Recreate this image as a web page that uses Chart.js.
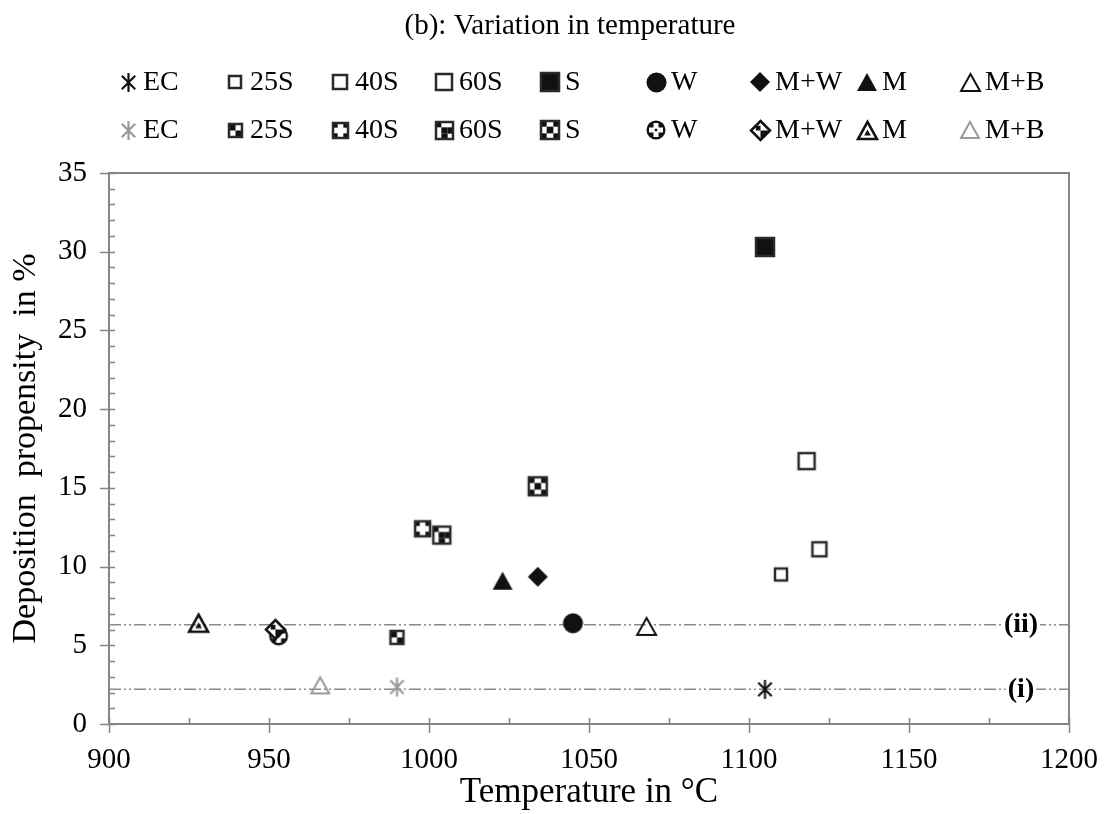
<!DOCTYPE html>
<html>
<head>
<meta charset="utf-8">
<script src="https://cdn.jsdelivr.net/npm/chart.js@4.4.1/dist/chart.umd.min.js"></script>
<style>
  html, body { margin: 0; padding: 0; background: #fff; }
</style>
</head>
<body>
<canvas id="myChart" width="1104" height="814"></canvas>
<script>
const groups = ['EC', '25S', '40S', '60S', 'S', 'W', 'M+W', 'M', 'M+B'];

// solid / open markers (first legend row)
const tempA = [1105, 1110, 1122, 1118, 1105, 1045, 1034, 1023, 1068];
const depA  = [2.2, 9.5, 11.1, 16.7, 30.3, 6.4, 9.35, 9.1, 6.2];

// patterned markers (second legend row)
const tempB = [990, 990, 998, 1004, 1034, 953, 952, 928, 966];
const depB  = [2.35, 5.5, 12.4, 12.0, 15.1, 5.6, 6.0, 6.4, 2.45];

// horizontal limit lines
const limitLabels = ['(i)', '(ii)'];
const limitValues = [2.2, 6.3];
const xRange = [900, 1200];
const yRange = [0, 35];

const chartTitle = '(b): Variation in temperature';
const SERIF = '"Liberation Serif", "Times New Roman", serif';
const INK = '#111';
const GREY = '#9a9a9a';

function blank(size) {
  const c = document.createElement('canvas');
  c.width = c.height = size;
  return c;
}

function square(size, mode, n, dark) {
  const c = blank(size + 4), g = c.getContext('2d'), a = 2;
  g.fillStyle = mode === 'solid' ? INK : '#fff';
  g.fillRect(a, a, size, size);
  if (mode === 'check') {
    const cell = size / n;
    g.fillStyle = INK;
    dark.forEach(k => g.fillRect(a + (k % n) * cell, a + Math.floor(k / n) * cell, cell, cell));
  }
  g.strokeStyle = '#2a2a2a';
  g.lineWidth = 2.5;
  g.strokeRect(a + 1, a + 1, size - 2, size - 2);
  return c;
}

function circle(size, mode) {
  const c = blank(size + 4), g = c.getContext('2d'), m = c.width / 2, r = size / 2;
  g.beginPath();
  g.arc(m, m, r - 0.5, 0, Math.PI * 2);
  g.fillStyle = INK;
  g.fill();
  if (mode === 'check') {
    const b = r * 0.5;
    g.fillStyle = '#fff';
    g.fillRect(m - b / 2, m - r * 0.7, b, r * 1.4);
    g.fillRect(m - r * 0.7, m - b / 2, r * 1.4, b);
    g.fillStyle = INK;
    g.fillRect(m - b / 4, m - b / 4, b / 2, b / 2);
  }
  return c;
}

function diamond(size, mode) {
  const c = blank(size + 4), g = c.getContext('2d'), m = c.width / 2, r = size / 2;
  g.beginPath();
  g.moveTo(m, m - r); g.lineTo(m + r, m); g.lineTo(m, m + r); g.lineTo(m - r, m);
  g.closePath();
  if (mode === 'solid') {
    g.fillStyle = INK;
    g.fill();
    return c;
  }
  g.fillStyle = '#fff';
  g.fill();
  g.save();
  g.clip();
  g.fillStyle = INK;
  g.fillRect(m, m, r, r);
  g.fillRect(m - r * 0.5, m - r * 0.5, r * 0.5, r * 0.5);
  g.restore();
  g.strokeStyle = INK;
  g.lineWidth = 2.5;
  g.stroke();
  return c;
}

function triangle(size, mode, colour) {
  const c = blank(size + 4), g = c.getContext('2d'), m = c.width / 2, h = size * 0.9;
  const path = (s, dy) => {
    g.beginPath();
    g.moveTo(m, m - h * s / 2 + dy);
    g.lineTo(m + size * s / 2, m + h * s / 2 + dy);
    g.lineTo(m - size * s / 2, m + h * s / 2 + dy);
    g.closePath();
  };
  path(1, 0);
  if (mode === 'solid') {
    g.fillStyle = INK;
    g.fill();
    return c;
  }
  g.strokeStyle = colour;
  g.lineWidth = mode === 'check' ? 2.6 : 2;
  g.lineJoin = 'miter';
  g.stroke();
  if (mode === 'check') {
    path(0.35, 2);
    g.fillStyle = INK;
    g.fill();
  }
  return c;
}

function asterisk(size, colour) {
  const c = blank(size + 4), g = c.getContext('2d'), m = c.width / 2, r = size / 2;
  const dx = r * Math.cos(Math.PI * 45 / 180), dy = r * Math.sin(Math.PI * 45 / 180);
  g.strokeStyle = colour;
  g.lineWidth = 2.2;
  g.beginPath();
  g.moveTo(m, m - r); g.lineTo(m, m + r);
  g.moveTo(m - dx, m - dy); g.lineTo(m + dx, m + dy);
  g.moveTo(m + dx, m - dy); g.lineTo(m - dx, m + dy);
  g.stroke();
  return c;
}

const markersA = [
  asterisk(19, INK),
  square(14, 'open'),
  square(16, 'open'),
  square(18, 'open'),
  square(20, 'solid'),
  circle(21, 'solid'),
  diamond(20, 'solid'),
  triangle(20, 'solid'),
  triangle(19, 'open', INK)
];

const markersB = [
  asterisk(19, GREY),
  square(15, 'check', 2, [0, 3]),
  square(17, 'check', 3, [0, 2, 6, 8]),
  square(19, 'check', 3, [0, 4, 5, 7]),
  square(20, 'check', 3, [0, 2, 4, 6, 8]),
  circle(20, 'check'),
  diamond(19, 'check'),
  triangle(19, 'check', INK),
  triangle(18, 'open', GREY)
];

// legend grid: marker centres
const legendX = [128, 235, 340, 444, 550, 656, 760, 867, 970];
const legendY = [82, 130];

const toPoints = (xs, ys) => xs.map((x, i) => ({ x: x, y: ys[i] }));

const limitSets = limitValues.map(v => ({
  data: [{ x: xRange[0], y: v }, { x: xRange[1], y: v }],
  showLine: true,
  pointRadius: 0,
  borderColor: '#8a8a8a',
  borderWidth: 1.5,
  borderDash: [12, 3, 2, 3, 2, 3],
  order: 2
}));

const frame = {
  id: 'frame',
  beforeDatasetsDraw(chart) {
    const { ctx, chartArea: a, scales: { x, y } } = chart;
    ctx.save();
    ctx.strokeStyle = '#858585';
    ctx.lineWidth = 2;
    ctx.strokeRect(a.left, a.top, a.right - a.left, a.bottom - a.top);
    ctx.lineWidth = 1.5;
    ctx.beginPath();
    for (let v = xRange[0]; v <= xRange[1]; v += 25) {
      const px = Math.round(x.getPixelForValue(v)) + 0.5;
      ctx.moveTo(px, a.bottom - 6);
      ctx.lineTo(px, v % 50 === 0 ? a.bottom + 9 : a.bottom);
    }
    for (let v = yRange[0]; v <= yRange[1]; v += 1) {
      const py = Math.round(y.getPixelForValue(v)) + 0.5;
      ctx.moveTo(v % 5 === 0 ? a.left - 9 : a.left, py);
      ctx.lineTo(a.left + 6, py);
    }
    ctx.stroke();
    ctx.restore();
  },
  afterDatasetsDraw(chart) {
    const { ctx, scales: { x, y } } = chart;
    ctx.save();
    ctx.font = 'bold 28px ' + SERIF;
    ctx.textAlign = 'center';
    ctx.textBaseline = 'middle';
    limitValues.forEach((v, i) => {
      const px = x.getPixelForValue(1185), py = y.getPixelForValue(v);
      const w = ctx.measureText(limitLabels[i]).width;
      ctx.fillStyle = '#fff';
      ctx.fillRect(px - w / 2 - 2, py - 4, w + 4, 8);
      ctx.fillStyle = '#000';
      ctx.fillText(limitLabels[i], px, py);
    });
    ctx.restore();
  },
  afterDraw(chart) {
    const ctx = chart.ctx;
    ctx.save();
    ctx.fillStyle = '#000';
    ctx.textBaseline = 'middle';
    ctx.textAlign = 'center';
    ctx.font = '29px ' + SERIF;
    ctx.fillText(chartTitle, 570, 26);
    ctx.textAlign = 'left';
    ctx.font = '28px ' + SERIF;
    [markersA, markersB].forEach((marks, r) => {
      marks.forEach((m, i) => {
        const cx = legendX[i], cy = legendY[r];
        ctx.drawImage(m, Math.round(cx - m.width / 2), Math.round(cy - m.height / 2));
        ctx.fillText(groups[i], cx + 15, cy + 1);
      });
    });
    ctx.restore();
  }
};

new Chart(document.getElementById('myChart'), {
  type: 'scatter',
  data: {
    datasets: [
      { data: toPoints(tempA, depA), pointStyle: markersA, pointRadius: 10, order: 0 },
      { data: toPoints(tempB, depB), pointStyle: markersB, pointRadius: 10, order: 1 },
      ...limitSets
    ]
  },
  options: {
    responsive: false,
    animation: false,
    events: [],
    layout: { autoPadding: false, padding: { top: 173, right: 35, left: 0, bottom: 0 } },
    plugins: {
      legend: { display: false },
      tooltip: { enabled: false }
    },
    scales: {
      x: {
        type: 'linear',
        min: xRange[0],
        max: xRange[1],
        grid: { display: false },
        border: { display: false },
        ticks: {
          stepSize: 50,
          color: '#000',
          padding: 11,
          font: { family: SERIF, size: 29 },
          callback: v => String(v)
        },
        title: {
          display: true,
          text: 'Temperature in °C',
          color: '#000',
          font: { family: SERIF, size: 35 },
          padding: { top: 0, bottom: 0 }
        },
        afterFit: s => {
          s.height = 90;
          s.paddingLeft = 0;
          s.paddingRight = 0;
        }
      },
      y: {
        min: yRange[0],
        max: yRange[1],
        grid: { display: false },
        border: { display: false },
        ticks: {
          stepSize: 5,
          color: '#000',
          padding: 14,
          font: { family: SERIF, size: 29 },
          callback: v => String(v)
        },
        title: {
          display: true,
          text: 'Deposition  propensity  in %',
          color: '#000',
          font: { family: SERIF, size: 34 },
          padding: { top: 6, bottom: 0 }
        },
        afterFit: s => {
          s.width = 109;
          s.paddingTop = 0;
          s.paddingBottom = 0;
        }
      }
    }
  },
  plugins: [frame]
});
</script>
</body>
</html>
